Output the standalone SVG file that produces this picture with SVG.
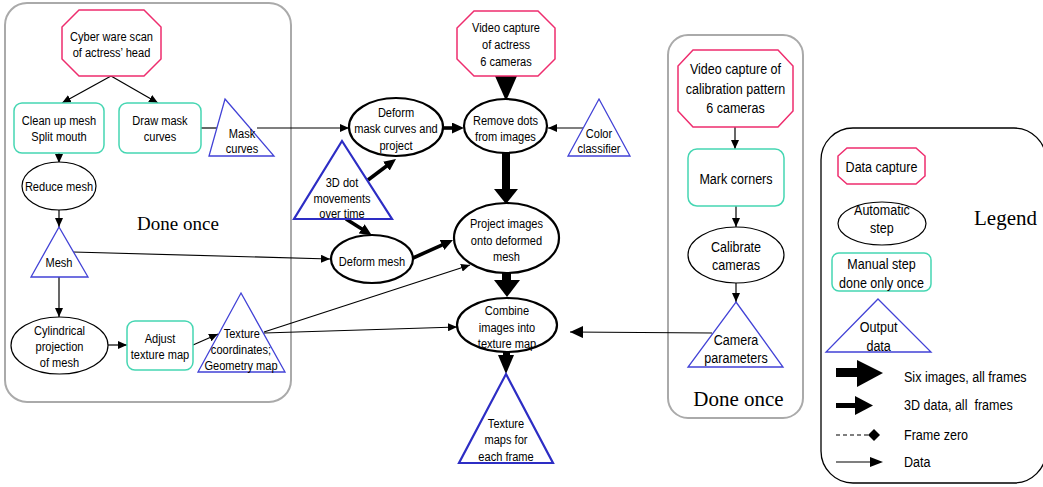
<svg xmlns="http://www.w3.org/2000/svg" width="1043" height="487" viewBox="0 0 1043 487">
<style>
.t{font-family:"Liberation Sans Narrow","Liberation Sans",Arial,sans-serif;font-size:13.5px;text-anchor:middle;fill:#000}
.tr{font-family:"Liberation Sans Narrow","Liberation Sans",Arial,sans-serif;font-size:15.3px;text-anchor:middle;fill:#000}
.tl{font-family:"Liberation Sans Narrow","Liberation Sans",Arial,sans-serif;font-size:15.3px;fill:#000}
.serif{font-family:"Liberation Serif","Times New Roman",serif;fill:#000}
.panel{fill:none;stroke:#aaaaaa;stroke-width:2}
.cap{fill:#fff;stroke:#ee2d6e;stroke-width:1.5}
.man{fill:#fff;stroke:#45d6b2;stroke-width:1.5}
.auto{fill:#fff;stroke:#000;stroke-width:1.2}
.auto2{fill:#fff;stroke:#000;stroke-width:2.2}
.out{fill:#fff;stroke:#4242d6;stroke-width:1.3}
.out2{fill:#fff;stroke:#2d2dc4;stroke-width:2.2}
.thin{fill:none;stroke:#000;stroke-width:1.2;marker-end:url(#a)}
.med{fill:none;stroke:#000;stroke-width:3.6;marker-end:url(#m)}
</style>
<defs>
<marker id="a" markerUnits="userSpaceOnUse" markerWidth="9" markerHeight="8" refX="9" refY="4" orient="auto"><path d="M0,0 L9,4 L0,8 z" fill="#000"/></marker>
<marker id="a2" markerUnits="userSpaceOnUse" markerWidth="13" markerHeight="12" refX="13" refY="6" orient="auto"><path d="M0,0 L13,6 L0,12 z" fill="#000"/></marker>
<marker id="m" markerUnits="userSpaceOnUse" markerWidth="12" markerHeight="11" refX="4" refY="5.5" orient="auto"><path d="M0,0 L12,5.5 L0,11 z" fill="#000"/></marker>
</defs>

<g id="panels">
<rect class="panel" x="5" y="3" width="286" height="399" rx="22"/>
<rect class="panel" x="668" y="35" width="135" height="383" rx="20"/>
<rect x="821" y="128" width="225" height="355" rx="32" fill="none" stroke="#000" stroke-width="1.3"/>
<text class="serif" x="178" y="229.5" font-size="19" text-anchor="middle">Done once</text>
<text class="serif" x="738.5" y="405.5" font-size="21" text-anchor="middle">Done once</text>
<text class="serif" x="1005.5" y="225" font-size="21" text-anchor="middle">Legend</text>
</g>

<g id="connectors">
<path class="thin" d="M111,76 L62,103"/>
<path class="thin" d="M111,76 L158,103"/>
<path class="thin" d="M59,153 L59,163"/>
<path class="thin" d="M201,128 L227,128"/>
<path class="thin" d="M257,128 L349,128"/>
<path class="thin" d="M59,210 L59,227"/>
<path class="thin" d="M59,277 L59,317"/>
<path class="thin" d="M73,252 L330,259"/>
<path class="thin" d="M108,345 L127,345"/>
<path class="thin" d="M193,345 L218,334"/>
<path class="thin" d="M264,332 L470,265"/>
<path class="thin" d="M264,333 L457,327"/>
<path class="thin" d="M584,128 L548,128"/>
<path class="thin" d="M735,127 L735,149"/>
<path class="thin" d="M736,206 L736,227"/>
<path class="thin" d="M736,283 L736,302"/>
<path d="M712,333 L570,332" fill="none" stroke="#000" stroke-width="1.2" marker-end="url(#a2)"/>
<path class="med" d="M443,128 L456,128"/>
<path class="med" d="M368,180 L389.6,163.8"/>
<path class="med" d="M346,219 L365,231"/>
<path class="med" d="M413,258 L445.7,243.3"/>
<polygon points="495,76 517,76 506,101" fill="#000"/>
<rect x="502" y="153" width="8" height="37" fill="#000"/>
<polygon points="494,189 518,189 506,204" fill="#000"/>
<rect x="502" y="272" width="9" height="9" fill="#000"/>
<polygon points="494,280 520,280 507,297" fill="#000"/>
<rect x="503" y="351" width="7" height="5" fill="#000"/>
<polygon points="498,355 514,355 506,374" fill="#000"/>
</g>

<g id="cyberware">
<polygon class="cap" points="79,10 144,10 161,27 161,59 144,76 79,76 62,59 62,27"/>
<g transform="matrix(0.82 0 0 1 20.07 0)">
<text class="t" x="111.5" y="41.5">Cyber ware scan</text>
<text class="t" x="111.5" y="57">of actress’ head</text>
</g>
</g>
<g id="cleanup">
<rect class="man" x="14" y="103" width="90" height="50" rx="8"/>
<g transform="matrix(0.82 0 0 1 10.62 0)">
<text class="t" x="59" y="125">Clean up mesh</text>
<text class="t" x="59" y="141">Split mouth</text>
</g>
</g>
<g id="drawmask">
<rect class="man" x="119" y="103" width="82" height="50" rx="8"/>
<g transform="matrix(0.82 0 0 1 28.8 0)">
<text class="t" x="160" y="125">Draw mask</text>
<text class="t" x="160" y="141">curves</text>
</g>
</g>
<g id="maskcurves">
<polygon class="out" points="225,99 274,156 209,156"/>
<g transform="matrix(0.82 0 0 1 43.56 0)">
<text class="t" x="242" y="138">Mask</text>
<text class="t" x="242" y="153">curves</text>
</g>
</g>
<g id="reducemesh">
<ellipse class="auto" cx="59" cy="186" rx="37" ry="24"/>
<g transform="matrix(0.82 0 0 1 10.62 0)">
<text class="t" x="59" y="191">Reduce mesh</text>
</g>
</g>
<g id="mesh">
<polygon class="out" points="59,227 88,277 31,277"/>
<g transform="matrix(0.82 0 0 1 10.62 0)">
<text class="t" x="59" y="267">Mesh</text>
</g>
</g>
<g id="cylindrical">
<ellipse class="auto" cx="59.5" cy="345.5" rx="48.5" ry="28.5"/>
<g transform="matrix(0.82 0 0 1 10.71 0)">
<text class="t" x="59.5" y="335">Cylindrical</text>
<text class="t" x="59.5" y="351">projection</text>
<text class="t" x="59.5" y="367">of mesh</text>
</g>
</g>
<g id="adjust">
<rect class="man" x="127" y="321" width="66" height="49" rx="8"/>
<g transform="matrix(0.82 0 0 1 28.8 0)">
<text class="t" x="160" y="343">Adjust</text>
<text class="t" x="160" y="359">texture map</text>
</g>
</g>
<g id="texcoords">
<polygon class="out" points="241,293 285,372 198,372"/>
<g transform="matrix(0.82 0 0 1 43.38 0)">
<text class="t" x="242" y="338">Texture</text>
<text class="t" x="241" y="354">coordinates;</text>
<text class="t" x="241" y="370">Geometry map</text>
</g>
</g>

<g id="videoactress">
<polygon class="cap" points="474,11 538,11 555,28 555,59 538,76 474,76 457,59 457,28"/>
<g transform="matrix(0.82 0 0 1 91.08 0)">
<text class="t" x="506" y="32">Video capture</text>
<text class="t" x="506" y="49">of actress</text>
<text class="t" x="506" y="66">6 cameras</text>
</g>
</g>
<g id="deformmask">
<ellipse class="auto2" cx="396" cy="127" rx="47" ry="29"/>
<g transform="matrix(0.82 0 0 1 71.28 0)">
<text class="t" x="396" y="117">Deform</text>
<text class="t" x="396" y="133">mask curves and</text>
<text class="t" x="396" y="150">project</text>
</g>
</g>
<g id="removedots">
<ellipse class="auto2" cx="505.5" cy="126" rx="41.5" ry="27"/>
<g transform="matrix(0.82 0 0 1 90.99 0)">
<text class="t" x="505.5" y="125">Remove dots</text>
<text class="t" x="505.5" y="141">from images</text>
</g>
</g>
<g id="colorclassifier">
<polygon class="out" points="599,99 630,156 568,156"/>
<g transform="matrix(0.82 0 0 1 107.82 0)">
<text class="t" x="599" y="138">Color</text>
<text class="t" x="599" y="153">classifier</text>
</g>
</g>
<g id="dotmovements">
<polygon class="out2" points="342,141 392,219 294,219"/>
<g transform="matrix(0.82 0 0 1 61.56 0)">
<text class="t" x="342" y="187">3D dot</text>
<text class="t" x="342" y="203">movements</text>
<text class="t" x="342" y="218">over time</text>
</g>
</g>
<g id="deformmesh">
<ellipse class="auto2" cx="372" cy="259" rx="41" ry="24"/>
<g transform="matrix(0.82 0 0 1 66.96 0)">
<text class="t" x="372" y="266">Deform mesh</text>
</g>
</g>
<g id="project">
<ellipse class="auto2" cx="506.5" cy="238" rx="52.5" ry="35"/>
<g transform="matrix(0.82 0 0 1 91.17 0)">
<text class="t" x="506.5" y="228">Project images</text>
<text class="t" x="506.5" y="245">onto deformed</text>
<text class="t" x="506.5" y="261">mesh</text>
</g>
</g>
<g id="combine">
<ellipse class="auto2" cx="507" cy="325" rx="50" ry="27"/>
<g transform="matrix(0.82 0 0 1 91.26 0)">
<text class="t" x="507" y="315">Combine</text>
<text class="t" x="507" y="332">images into</text>
<text class="t" x="507" y="348">texture map</text>
</g>
</g>
<g id="texturemaps">
<polygon class="out2" points="506,374 553,463 459,463"/>
<g transform="matrix(0.82 0 0 1 91.08 0)">
<text class="t" x="506" y="428">Texture</text>
<text class="t" x="506" y="444">maps for</text>
<text class="t" x="506" y="461">each frame</text>
</g>
</g>

<g id="videocalib">
<polygon class="cap" points="693,50 778,50 793,66 793,111 778,127 693,127 678,111 678,66"/>
<g transform="matrix(0.82 0 0 1 132.39 0)">
<text class="tr" x="735.5" y="74.5">Video capture of</text>
<text class="tr" x="735.5" y="94">calibration pattern</text>
<text class="tr" x="735.5" y="113.5">6 cameras</text>
</g>
</g>
<g id="markcorners">
<rect class="man" x="688" y="149" width="96" height="57" rx="9"/>
<g transform="matrix(0.82 0 0 1 132.48 0)">
<text class="tr" x="736" y="184.5">Mark corners</text>
</g>
</g>
<g id="calibrate">
<ellipse class="auto" cx="736" cy="255" rx="48" ry="28"/>
<g transform="matrix(0.82 0 0 1 132.48 0)">
<text class="tr" x="736" y="252.5">Calibrate</text>
<text class="tr" x="736" y="270.5">cameras</text>
</g>
</g>
<g id="cameraparams">
<polygon class="out" points="736,302 783,367 688,367"/>
<g transform="matrix(0.82 0 0 1 132.48 0)">
<text class="tr" x="736" y="345.5">Camera</text>
<text class="tr" x="736" y="363.5">parameters</text>
</g>
</g>

<g id="legend">
<polygon class="cap" points="847,148 916,148 925,156 925,176 916,184 847,184 838,176 838,156"/>
<ellipse class="auto" cx="882" cy="223.5" rx="44" ry="21.5"/>
<rect class="man" x="832" y="253" width="99" height="38" rx="7"/>
<polygon class="out" points="878,299 931,352 826,352"/>
<g transform="matrix(0.82 0 0 1 158.67 0)">
<text class="tr" x="881.5" y="172.5">Data capture</text>
<text class="tr" x="882" y="215.5">Automatic</text>
<text class="tr" x="882" y="233.5">step</text>
<text class="tr" x="881.5" y="269.5">Manual step</text>
<text class="tr" x="881.5" y="288.5">done only once</text>
<text class="tr" x="878" y="332.5">Output</text>
<text class="tr" x="878" y="351.5">data</text>
</g>
<rect x="836" y="368" width="22" height="9" fill="#000"/>
<polygon points="857,360 883,373 857,387" fill="#000"/>
<rect x="836" y="403" width="20" height="5" fill="#000"/>
<polygon points="855,396 873,405.5 855,415" fill="#000"/>
<line x1="836" y1="435" x2="868" y2="435" stroke="#000" stroke-width="1.2" stroke-dasharray="4,3"/>
<polygon points="868,435 874,429 880,435 874,441" fill="#000"/>
<line x1="836" y1="462" x2="872" y2="462" stroke="#000" stroke-width="1.2"/>
<polygon points="870,457 883,462 870,467" fill="#000"/>
<g transform="matrix(0.82 0 0 1 162.72 0)">
<text class="tl" x="904" y="382.5">Six images, all frames</text>
<text class="tl" x="904" y="410.5" xml:space="preserve" style="white-space:pre">3D data, all  frames</text>
<text class="tl" x="904" y="440.5">Frame zero</text>
<text class="tl" x="904" y="467.5">Data</text>
</g>
</g>
</svg>
